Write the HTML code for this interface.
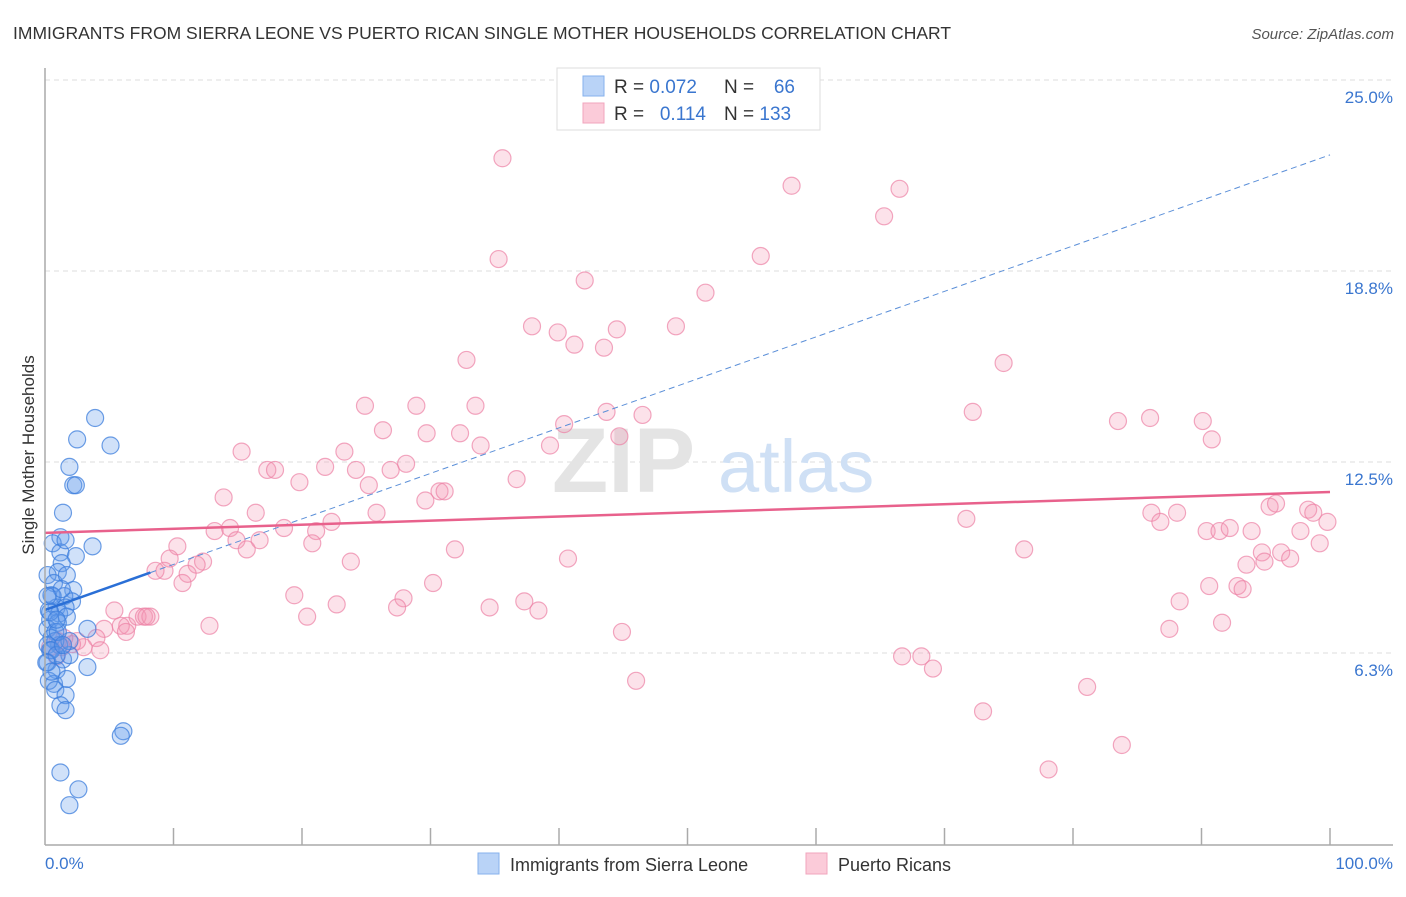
<!DOCTYPE html>
<html><head><meta charset="utf-8"><style>
body{margin:0;background:#fff;font-family:"Liberation Sans",sans-serif;}
svg text{font-family:"Liberation Sans",sans-serif;}
</style></head><body>
<svg id="chart" width="1406" height="892" xmlns="http://www.w3.org/2000/svg">
<text x="13" y="39" font-size="17.5" fill="#333">IMMIGRANTS FROM SIERRA LEONE VS PUERTO RICAN SINGLE MOTHER HOUSEHOLDS CORRELATION CHART</text>
<text x="1394" y="39" font-size="15" fill="#555" text-anchor="end" font-style="italic">Source: ZipAtlas.com</text>
<text transform="translate(34,455) rotate(-90)" font-size="17" fill="#333" text-anchor="middle">Single Mother Households</text>
<g id="grid"></g>
<g><text x="552" y="492" font-size="92" fill="#e4e4e4" font-family="Liberation Serif" font-weight="bold">ZIP</text><text x="718" y="492" font-size="74" fill="#cfe0f5">atlas</text></g>
<g id="pts"></g>
<g id="trends"></g>
<g id="axes"></g>
<g>
<rect x="557" y="68" width="263" height="62" fill="#fff" stroke="#ddd"/>
<rect x="583" y="76" width="21" height="20" fill="#b9d3f7" stroke="#86b1ec"/>
<rect x="583" y="103" width="21" height="20" fill="#fbcbd9" stroke="#f2a5bd"/>
<text x="614" y="93" font-size="19" fill="#333">R = <tspan fill="#3a76cf">0.072</tspan></text>
<text x="724" y="93" font-size="19" fill="#333">N = </text><text x="795" y="93" font-size="19" fill="#3a76cf" text-anchor="end">66</text>
<text x="614" y="120" font-size="19" fill="#333">R = </text><text x="706" y="120" font-size="19" fill="#3a76cf" text-anchor="end">0.114</text>
<text x="724" y="120" font-size="19" fill="#333">N = <tspan fill="#3a76cf">133</tspan></text>
</g>
<g>
<rect x="478" y="853" width="21" height="21" fill="#b9d3f7" stroke="#86b1ec"/>
<text x="510" y="871" font-size="18" fill="#333">Immigrants from Sierra Leone</text>
<rect x="806" y="853" width="21" height="21" fill="#fbcbd9" stroke="#f2a5bd"/>
<text x="838" y="871" font-size="18" fill="#333">Puerto Ricans</text>
</g>
</svg>
<script>
const yTicks=[25,18.75,12.5,6.25];
const yTickLabels=["25.0%","18.8%","12.5%","6.3%"];
const xTickLabels=["0.0%","100.0%"];
// raw values (offset corrected below)
const blueX=[3.9,2.5,5.1,1.9,2.2,2.4,1.4,1.2,3.7,0.6,1.2,1.6,2.4,1.3,1.0,0.2,0.7,1.7,2.2,0.5,1.5,2.1,0.9,0.3,1.1,1.6,0.4,1.0,1.7,0.2,0.8,3.3,0.5,1.1,1.4,1.9,0.8,0.2,3.3,0.9,0.7,1.7,0.3,0.8,1.6,1.2,1.6,6.1,5.9,1.2,2.6,1.9,0.4,0.5,0.2,0.9,0.6,1.3,0.2,0.4,1.9,1.0,0.1,0.5,1.4,0.9];
const blueYraw=[14.5,13.8,13.6,12.9,12.3,12.3,11.4,10.6,10.3,10.4,10.1,10.5,9.98,9.75,9.46,9.36,9.1,9.36,8.87,8.7,8.67,8.5,8.3,8.2,8.1,8.3,7.9,7.8,8.0,7.6,7.5,7.6,7.3,7.07,6.6,6.74,7.2,7.07,6.35,6.25,5.8,5.96,5.9,5.6,5.43,5.1,4.94,4.25,4.1,2.9,2.35,1.83,6.9,6.9,6.5,6.74,8.67,8.9,8.67,8.15,7.2,7.5,6.5,6.2,7.07,7.9];
const pinkX=[35.6,58.1,66.5,65.3,35.3,55.7,42.0,51.4,37.9,39.9,44.5,49.1,41.2,43.5,32.8,74.6,24.9,28.9,33.5,43.7,46.5,72.2,83.5,86.0,90.1,26.3,29.7,32.3,40.4,90.8,44.7,39.3,15.3,23.3,33.9,28.1,17.3,17.9,21.8,24.2,26.9,19.8,25.2,30.7,31.1,36.7,29.6,13.9,16.4,25.8,71.7,86.1,86.8,88.1,22.3,18.6,13.2,14.4,21.1,90.4,91.4,92.2,93.9,95.3,95.8,98.3,98.7,99.8,14.9,16.7,20.8,15.7,97.7,99.2,10.3,31.9,40.7,76.2,94.7,93.5,96.2,96.9,94.9,9.7,12.3,11.8,9.3,8.6,11.1,10.7,30.2,23.8,19.4,90.6,92.8,93.2,27.9,37.3,22.7,34.6,38.4,27.4,88.3,20.4,5.4,12.8,6.4,7.2,7.7,8.2,7.9,4.6,5.9,6.3,4.0,3.0,2.5,2.1,1.5,1.0,1.3,0.4,4.3,44.9,91.6,87.5,66.7,68.2,69.1,46.0,81.1,73.0,83.8,78.1,0.9];
const pinkYraw=[23.0,22.1,22.0,21.1,19.7,19.8,19.0,18.6,17.5,17.3,17.4,17.5,16.9,16.8,16.4,16.3,14.9,14.9,14.9,14.7,14.6,14.7,14.4,14.5,14.4,14.1,14.0,14.0,14.3,13.8,13.9,13.6,13.4,13.4,13.6,13.0,12.8,12.8,12.9,12.8,12.8,12.4,12.3,12.1,12.1,12.5,11.8,11.9,11.4,11.4,11.2,11.4,11.1,11.4,11.1,10.9,10.8,10.9,10.8,10.8,10.8,10.9,10.8,11.6,11.7,11.5,11.4,11.1,10.5,10.5,10.4,10.2,10.8,10.4,10.3,10.2,9.9,10.2,10.1,9.7,10.1,9.9,9.8,9.9,9.8,9.7,9.5,9.5,9.4,9.1,9.1,9.8,8.7,9.0,9.0,8.9,8.6,8.5,8.4,8.3,8.2,8.3,8.5,8.0,8.2,7.7,7.7,8.0,8.0,8.0,8.0,7.6,7.7,7.5,7.3,7.0,7.2,7.1,7.3,7.2,7.0,7.0,6.9,7.5,7.8,7.6,6.7,6.7,6.3,5.9,5.7,4.9,3.8,3.0,6.7];
const blueY=blueYraw.map(v=>v-0.56);
const pinkY=pinkYraw.map(v=>v-0.56);
const pinkTrend=[10.18,11.52];
const blueTrend=[7.66,22.55];
const blueSolidEnd=8.2;

const NS="http://www.w3.org/2000/svg";
const xS=v=>45+v*12.85;
const yS=v=>80+(25-v)*30.56;
function mk(tag,attrs,parent,txt){const e=document.createElementNS(NS,tag);for(const k in attrs)e.setAttribute(k,attrs[k]);if(txt!==undefined)e.textContent=txt;parent.appendChild(e);return e;}
const grid=document.getElementById('grid'),axes=document.getElementById('axes'),pts=document.getElementById('pts'),tr=document.getElementById('trends');
yTicks.forEach((t,i)=>{
  const l=mk('line',{x1:45,x2:1393,y1:yS(t),y2:yS(t),stroke:'#ddd','stroke-dasharray':'5,4'},grid);
  
  
  const tx=mk('text',{x:1393,y:yS(t)+23,'font-size':17,fill:'#3a76cf','text-anchor':'end'},axes,yTickLabels[i]);
  
  
});
mk('line',{x1:45,x2:45,y1:68,y2:845,stroke:'#aaa','stroke-width':1.5},axes);
mk('line',{x1:45,x2:1393,y1:845,y2:845,stroke:'#aaa','stroke-width':1.5},axes);
for(let k=1;k<=10;k++){const l=mk('line',{x1:xS(k*10),x2:xS(k*10),y1:828,y2:845,stroke:'#aaa','stroke-width':1.5},axes);
  
  }
const x0=mk('text',{x:45,y:869,'font-size':17,fill:'#3a76cf'},axes,xTickLabels[0]);


const x1=mk('text',{x:1393,y:869,'font-size':17,fill:'#3a76cf','text-anchor':'end'},axes,xTickLabels[1]);


pinkX.forEach((x,i)=>{const c=mk('circle',{cx:xS(x),cy:yS(pinkY[i]),r:8.5,fill:'rgba(243,150,180,0.28)',stroke:'rgba(236,130,165,0.7)','stroke-width':1.2},pts);
  
  });
blueX.forEach((x,i)=>{const c=mk('circle',{cx:xS(x),cy:yS(blueY[i]),r:8.5,fill:'rgba(100,155,235,0.3)',stroke:'rgba(60,125,220,0.75)','stroke-width':1.2},pts);
  
  });
const bAt=v=>blueTrend[0]+(blueTrend[1]-blueTrend[0])*v/100;
const d=mk('line',{x1:xS(blueSolidEnd),y1:yS(bAt(blueSolidEnd)),x2:xS(100),y2:yS(blueTrend[1]),stroke:'#5b8fd8','stroke-width':1,'stroke-dasharray':'6,4'},tr);


const s=mk('line',{x1:xS(0),y1:yS(blueTrend[0]),x2:xS(blueSolidEnd),y2:yS(bAt(blueSolidEnd)),stroke:'#2a6fd6','stroke-width':2.5},tr);


const p=mk('line',{x1:xS(0),y1:yS(pinkTrend[0]),x2:xS(100),y2:yS(pinkTrend[1]),stroke:'#e8618c','stroke-width':2.5},tr);


</script>
</body></html>
